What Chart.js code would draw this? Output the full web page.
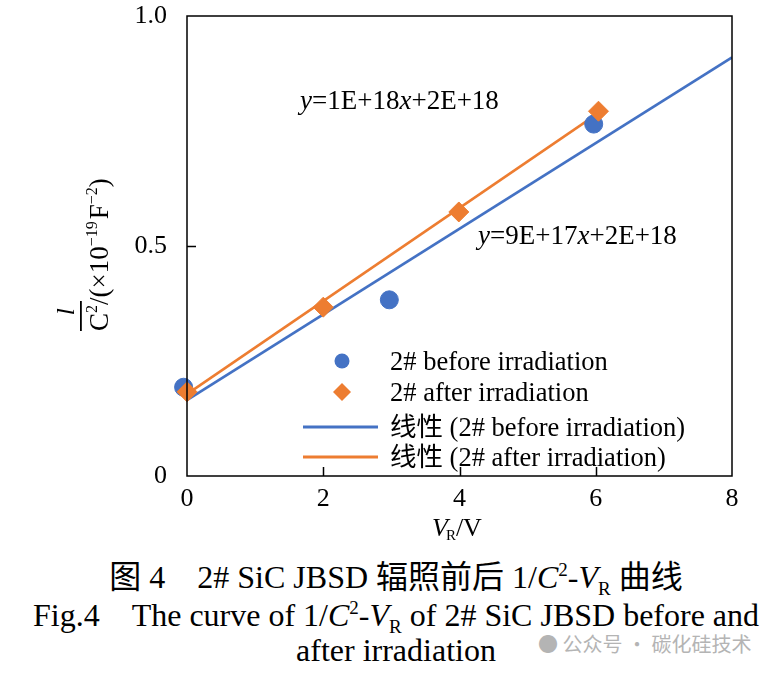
<!DOCTYPE html>
<html lang="zh">
<head>
    <meta charset="UTF-8">
    <title>1/C2-VR curve</title>
    <script src="https://cdn.jsdelivr.net/npm/chart.js"></script>
    <style>
        body {
            margin: 0;
            background: #fff;
            width: 780px;
            height: 675px;
            overflow: hidden;
            font-family: 'Liberation Serif', 'Noto Sans CJK SC', serif;
        }
        .chart-box {
            position: absolute;
            left: 0;
            top: 0;
            width: 780px;
            height: 540px;
        }
        .caption {
            position: absolute;
            left: 0;
            width: 780px;
            text-align: center;
            font-size: 32px;
            line-height: 36px;
            color: #000;
            white-space: nowrap;
        }
        .caption i { font-style: italic; }
        .caption sup { font-size: 19px; vertical-align: 12px; line-height: 0; }
        .caption sub { font-size: 19px; vertical-align: -7px; line-height: 0; }
        .mark {
            position: absolute;
            left: 538px;
            top: 631px;
            font-family: 'Noto Sans CJK SC', sans-serif;
            font-size: 20px;
            line-height: 26px;
            color: #b4b4b4;
        }
    </style>
</head>
<body>
    <div class="chart-box">
        <canvas id="cvChart" width="780" height="540"></canvas>
    </div>
    <div class="caption" style="top:559px; left:6px;">图 4&nbsp;&nbsp;&nbsp;&nbsp;2# SiC JBSD 辐照前后 1/<i>C</i><sup>2</sup>-<i>V</i><sub>R</sub> 曲线</div>
    <div class="caption" style="top:597px; left:6px;">Fig.4&nbsp;&nbsp;&nbsp;&nbsp;The curve of 1/<i>C</i><sup>2</sup>-<i>V</i><sub>R</sub> of 2# SiC JBSD before and</div>
    <div class="caption" style="top:632px; left:6px;">after irradiation</div>
    <div class="mark">● 公众号 · 碳化硅技术</div>

    <script>
        // measured values (x: reverse voltage V, y: 1/C^2 in 1e-19 F^-2)
        const beforeX = [-0.05, 2.97, 5.97];
        const beforeY = [0.193, 0.383, 0.765];
        const afterX = [0, 2, 3.99, 6.04];
        const afterY = [0.183, 0.367, 0.574, 0.793];
        // linear fit lines, read at their ends
        const fitBeforeX = [0, 8];
        const fitBeforeY = [0.165, 0.91];
        const fitAfterX = [0, 6];
        const fitAfterY = [0.178, 0.785];
        const xTicks = [0, 2, 4, 6, 8];
        const yTicks = [0, 0.5, 1.0];

        const blue = '#4472C4';
        const orange = '#ED7D31';
        const serif = "'Liberation Serif', 'Noto Sans CJK SC', serif";

        const toPoints = (xs, ys) => xs.map((x, i) => ({ x: x, y: ys[i] }));

        // inner ticks, box border, axis titles, equations and legend
        const decor = {
            id: 'decor',
            afterDraw(chart) {
                const ctx = chart.ctx;
                const a = chart.chartArea;
                const xs = chart.scales.x;
                const ys = chart.scales.y;
                ctx.save();
                ctx.strokeStyle = '#000';
                ctx.lineWidth = 1.5;
                ctx.strokeRect(a.left, a.top, a.right - a.left, a.bottom - a.top);
                ctx.beginPath();
                xTicks.slice(1, -1).forEach(v => {
                    const px = Math.round(xs.getPixelForValue(v)) + 0.5;
                    ctx.moveTo(px, a.bottom);
                    ctx.lineTo(px, a.bottom - 9);
                });
                yTicks.slice(1, -1).forEach(v => {
                    const py = Math.round(ys.getPixelForValue(v)) + 0.5;
                    ctx.moveTo(a.left, py);
                    ctx.lineTo(a.left + 9, py);
                });
                ctx.stroke();

                ctx.fillStyle = '#000';
                ctx.textBaseline = 'alphabetic';

                // x title: V_R/V
                let x0 = 432, y0 = 536;
                ctx.font = 'italic 26px ' + serif;
                ctx.fillText('V', x0, y0);
                x0 += ctx.measureText('V').width - 2;
                ctx.font = '15px ' + serif;
                ctx.fillText('R', x0, y0 + 4);
                x0 += ctx.measureText('R').width;
                ctx.font = '26px ' + serif;
                ctx.fillText('/V', x0, y0);

                // y title: l over C^2 /(x10^-19 F^-2), rotated
                ctx.save();
                ctx.translate(108, 331);
                ctx.rotate(-Math.PI / 2);
                ctx.font = '27px ' + serif;
                let u = 0;
                ctx.fillText('C', u, 0);
                u += ctx.measureText('C').width;
                ctx.font = '16px ' + serif;
                ctx.fillText('2', u, -11);
                u += ctx.measureText('2').width;
                const barEnd = u;
                ctx.font = '27px ' + serif;
                ctx.fillText('/(×10', u, 0);
                u += ctx.measureText('/(×10').width;
                ctx.font = '16px ' + serif;
                ctx.fillText('−19', u, -11);
                u += ctx.measureText('−19').width + 2;
                ctx.font = '27px ' + serif;
                ctx.fillText('F', u, 0);
                u += ctx.measureText('F').width;
                ctx.font = '16px ' + serif;
                ctx.fillText('−2', u, -11);
                u += ctx.measureText('−2').width;
                ctx.font = '27px ' + serif;
                ctx.fillText(')', u, 0);
                ctx.fillRect(0, -28, barEnd + 4, 1.8);
                ctx.font = 'italic 26px ' + serif;
                ctx.textAlign = 'center';
                ctx.fillText('l', (barEnd + 4) / 2 + 4, -34);
                ctx.restore();

                // fit equations
                const eq = (txt, x, y) => {
                    let px = x;
                    txt.forEach(part => {
                        ctx.font = (part.i ? 'italic ' : '') + '27px ' + serif;
                        ctx.fillText(part.t, px, y);
                        px += ctx.measureText(part.t).width;
                    });
                };
                eq([{ t: 'y', i: 1 }, { t: '=1E+18' }, { t: 'x', i: 1 }, { t: '+2E+18' }], 300, 109);
                eq([{ t: 'y', i: 1 }, { t: '=9E+17' }, { t: 'x', i: 1 }, { t: '+2E+18' }], 478, 244);

                // legend
                const rows = [361, 392, 427, 457];
                chart.data.datasets.forEach((ds, i) => {
                    const ry = rows[i];
                    ctx.fillStyle = ds.borderColor;
                    ctx.strokeStyle = ds.borderColor;
                    if (ds.type === 'line') {
                        ctx.lineWidth = 3;
                        ctx.beginPath();
                        ctx.moveTo(303, ry);
                        ctx.lineTo(378, ry);
                        ctx.stroke();
                    } else if (ds.pointStyle === 'rectRot') {
                        ctx.beginPath();
                        ctx.moveTo(342, ry - 9);
                        ctx.lineTo(351, ry);
                        ctx.lineTo(342, ry + 9);
                        ctx.lineTo(333, ry);
                        ctx.closePath();
                        ctx.fill();
                    } else {
                        ctx.beginPath();
                        ctx.arc(342, ry, 7.5, 0, Math.PI * 2);
                        ctx.fill();
                    }
                    ctx.fillStyle = '#000';
                    ctx.font = '26.5px ' + serif;
                    ctx.fillText(ds.label, 390, ry + 9);
                });
                ctx.restore();
            }
        };

        new Chart(document.getElementById('cvChart').getContext('2d'), {
            type: 'scatter',
            data: {
                datasets: [
                    {
                        label: '2# before irradiation',
                        data: toPoints(beforeX, beforeY),
                        backgroundColor: blue,
                        borderColor: blue,
                        pointStyle: 'circle',
                        pointRadius: 9,
                        clip: false,
                        order: 1
                    },
                    {
                        label: '2# after irradiation',
                        data: toPoints(afterX, afterY),
                        backgroundColor: orange,
                        borderColor: orange,
                        pointStyle: 'rectRot',
                        pointRadius: 10,
                        clip: false,
                        order: 0
                    },
                    {
                        type: 'line',
                        label: '线性 (2# before irradiation)',
                        data: toPoints(fitBeforeX, fitBeforeY),
                        borderColor: blue,
                        borderWidth: 2.5,
                        pointRadius: 0,
                        order: 3
                    },
                    {
                        type: 'line',
                        label: '线性 (2# after irradiation)',
                        data: toPoints(fitAfterX, fitAfterY),
                        borderColor: orange,
                        borderWidth: 2.5,
                        pointRadius: 0,
                        order: 2
                    }
                ]
            },
            options: {
                responsive: false,
                animation: false,
                layout: { padding: { left: 0, top: 16, right: 48, bottom: 0 } },
                plugins: {
                    legend: { display: false },
                    tooltip: { enabled: false }
                },
                scales: {
                    x: {
                        type: 'linear',
                        min: 0,
                        max: 8,
                        afterBuildTicks: s => { s.ticks = xTicks.map(v => ({ value: v })); },
                        afterFit: s => {
                            s.height = 64;
                            s.paddingLeft = 0;
                            s.paddingRight = 0;
                        },
                        grid: { display: false },
                        border: { display: false },
                        ticks: {
                            color: '#000',
                            padding: 0,
                            font: { family: serif, size: 26 }
                        }
                    },
                    y: {
                        min: 0,
                        max: 1,
                        afterBuildTicks: s => { s.ticks = yTicks.map(v => ({ value: v })); },
                        afterFit: s => {
                            s.width = 187;
                            s.paddingTop = 0;
                            s.paddingBottom = 0;
                        },
                        grid: { display: false },
                        border: { display: false },
                        ticks: {
                            color: '#000',
                            padding: 12,
                            font: { family: serif, size: 26 },
                            callback: v => (v === 0 ? '0' : v.toFixed(1))
                        }
                    }
                }
            },
            plugins: [decor]
        });
    </script>
</body>
</html>
